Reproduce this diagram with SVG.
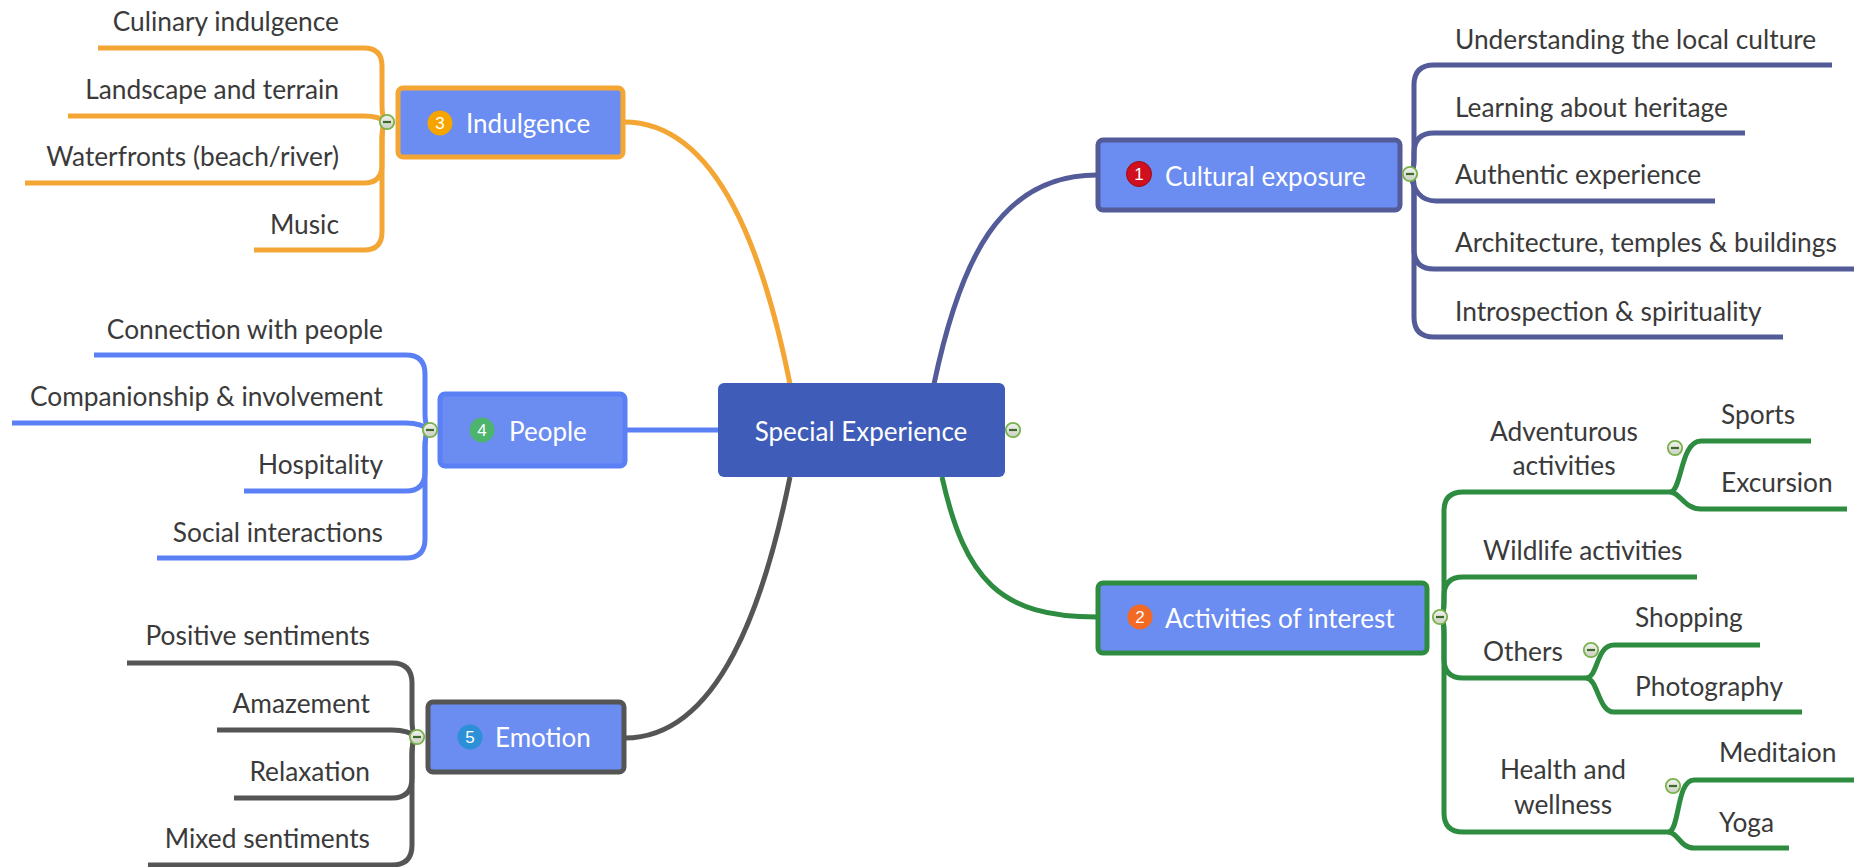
<svg xmlns="http://www.w3.org/2000/svg" width="1854" height="867" viewBox="0 0 1854 867">
<style>
.t{font-family:Lato,"Liberation Sans",sans-serif;font-size:26.3px;fill:#3a3a3a}
.nt{font-family:Lato,"Liberation Sans",sans-serif;font-size:26px;fill:#ffffff}
.bn{font-family:"Liberation Sans",Arial,sans-serif;font-size:17px;fill:#ffffff;text-anchor:middle}
.c{fill:none;stroke-width:5;stroke-linecap:butt;stroke-linejoin:round}
.or{stroke:#f4a634}.sl{stroke:#535b98}.gr{stroke:#2e8c40}.bl{stroke:#5b80f5}.gy{stroke:#555555}
.box{fill:#6b8cf0;stroke-width:5}
.col{fill:url(#cg);stroke:#79b24a;stroke-width:1.8}
.cm{stroke:#3f6b2a;stroke-width:2.2}
</style>
<defs>
<linearGradient id="cg" x1="0" y1="0" x2="0" y2="1"><stop offset="0" stop-color="#f4f4f0"/><stop offset="1" stop-color="#c9cfc3"/></linearGradient>
<g id="collapse"><circle r="7.2" class="col"/><line x1="-4" y1="0" x2="4" y2="0" class="cm"/></g>
</defs>
<g id="connectors">
<path class="c or" d="M790 384 C765 260 720 122 624 122"/>
<path class="c sl" d="M934 384 C960 260 1000 175 1097 175"/>
<path class="c gy" d="M790 477 C765 600 720 738 625 738"/>
<path class="c gr" d="M942 477 C965 580 1000 617 1097 617"/>
<path class="c bl" d="M626 430 L718 430"/>
<!-- Indulgence children -->
<path class="c or" d="M387 122 C384 122 382 116 382 104 L382 66 Q382 48 364 48 L98 48"/>
<path class="c or" d="M387 122 C380 118 375 116 364 116 L68 116"/>
<path class="c or" d="M387 122 C384 122 382 128 382 140 L382 165 Q382 183 364 183 L25 183"/>
<path class="c or" d="M387 122 C384 122 382 128 382 140 L382 232 Q382 250 364 250 L254 250"/>
<!-- People children -->
<path class="c bl" d="M430 430 C427 430 425 424 425 412 L425 374 Q425 355 406 355 L94 355"/>
<path class="c bl" d="M430 430 C423 426 418 423 406 423 L12 423"/>
<path class="c bl" d="M430 430 C427 430 425 436 425 448 L425 472 Q425 491 406 491 L244 491"/>
<path class="c bl" d="M430 430 C427 430 425 436 425 448 L425 539 Q425 558 406 558 L157 558"/>
<!-- Emotion children -->
<path class="c gy" d="M417 737 C414 737 412 731 412 719 L412 683 Q412 663 392 663 L127 663"/>
<path class="c gy" d="M417 737 C410 733 405 730 392 730 L217 730"/>
<path class="c gy" d="M417 737 C414 737 412 743 412 755 L412 778 Q412 798 392 798 L234 798"/>
<path class="c gy" d="M417 737 C414 737 412 743 412 755 L412 845 Q412 865 392 865 L148 865"/>
<!-- Cultural children -->
<path class="c sl" d="M1410 174 C1413 174 1414 168 1414 156 L1414 85 Q1414 65 1434 65 L1832 65"/>
<path class="c sl" d="M1410 174 C1413 174 1414 168 1414 156 L1414 153 Q1414 133 1434 133 L1745 133"/>
<path class="c sl" d="M1410 174 C1414 190 1420 201 1436 201 L1715 201"/>
<path class="c sl" d="M1410 174 C1413 174 1414 180 1414 192 L1414 249 Q1414 269 1434 269 L1854 269"/>
<path class="c sl" d="M1410 174 C1413 174 1414 180 1414 192 L1414 317 Q1414 337 1434 337 L1783 337"/>
<!-- Activities children -->
<path class="c gr" d="M1440 617 C1443 617 1444 611 1444 599 L1444 511 Q1444 492 1463 492 L1670 492"/>
<path class="c gr" d="M1440 617 C1443 617 1444 611 1444 599 L1444 596 Q1444 577 1463 577 L1697 577"/>
<path class="c gr" d="M1440 617 C1443 617 1444 623 1444 635 L1444 659 Q1444 678 1463 678 L1586 678"/>
<path class="c gr" d="M1440 617 C1443 617 1444 623 1444 635 L1444 813 Q1444 832 1463 832 L1668 832"/>
<path class="c gr" d="M1670 492 C1682 492 1680 441 1701 441 L1811 441"/>
<path class="c gr" d="M1670 492 C1680 492 1684 509 1701 509 L1847 509"/>
<path class="c gr" d="M1586 678 C1598 678 1596 645 1614 645 L1760 645"/>
<path class="c gr" d="M1586 678 C1598 678 1598 712 1614 712 L1802 712"/>
<path class="c gr" d="M1668 832 C1680 832 1676 780 1694 780 L1854 780"/>
<path class="c gr" d="M1668 832 C1678 832 1680 848 1694 848 L1789 848"/>
</g>
<g id="central">
<rect x="718" y="383" width="287" height="94" rx="6" fill="#3e5cb8"/>
<text class="nt" x="861" y="441" text-anchor="middle">Special Experience</text>
<use href="#collapse" x="1013" y="430"/>
</g>
<g id="cultural">
<rect class="box" x="1098" y="140" width="302" height="70" rx="5" stroke="#535b98"/>
<circle cx="1139" cy="174" r="12.5" fill="#d0101e" stroke="#9a0a14" stroke-width="1"/>
<text class="bn" x="1139" y="180">1</text>
<text class="nt" x="1165" y="186">Cultural exposure</text>
<use href="#collapse" x="1410" y="174"/>
</g>
<g id="activities">
<rect class="box" x="1098" y="583" width="329" height="70" rx="5" stroke="#2e8c40"/>
<circle cx="1140" cy="617" r="12.5" fill="#f26a24"/>
<text class="bn" x="1140" y="623">2</text>
<text class="nt" x="1165" y="628">Activities of interest</text>
<use href="#collapse" x="1440" y="617"/>
</g>
<g id="indulgence">
<rect class="box" x="398" y="88" width="225" height="69" rx="5" stroke="#f4a634"/>
<circle cx="440" cy="123" r="12.5" fill="#f6a500"/>
<text class="bn" x="440" y="129">3</text>
<text class="nt" x="466" y="133">Indulgence</text>
<use href="#collapse" x="387" y="122"/>
</g>
<g id="people">
<rect class="box" x="440" y="394" width="185" height="72" rx="5" stroke="#5b80f5" fill="#6d8ef3"/>
<circle cx="482" cy="430" r="12.5" fill="#4cb46c"/>
<text class="bn" x="482" y="436">4</text>
<text class="nt" x="509" y="441">People</text>
<use href="#collapse" x="430" y="430"/>
</g>
<g id="emotion">
<rect class="box" x="428" y="702" width="196" height="70" rx="5" stroke="#555555"/>
<circle cx="470" cy="737" r="12.5" fill="#2c90d6"/>
<text class="bn" x="470" y="743">5</text>
<text class="nt" x="495" y="747">Emotion</text>
<use href="#collapse" x="417" y="737"/>
</g>
<g id="indulgence-children">
<text class="t" x="339" y="31" text-anchor="end">Culinary indulgence</text>
<text class="t" x="339" y="99" text-anchor="end">Landscape and terrain</text>
<text class="t" x="339" y="166" text-anchor="end">Waterfronts (beach/river)</text>
<text class="t" x="339" y="234" text-anchor="end">Music</text>
</g>
<g id="people-children">
<text class="t" x="383" y="339" text-anchor="end">Connection with people</text>
<text class="t" x="383" y="406" text-anchor="end">Companionship &amp; involvement</text>
<text class="t" x="383" y="474" text-anchor="end">Hospitality</text>
<text class="t" x="383" y="542" text-anchor="end">Social interactions</text>
</g>
<g id="emotion-children">
<text class="t" x="370" y="645" text-anchor="end">Positive sentiments</text>
<text class="t" x="370" y="713" text-anchor="end">Amazement</text>
<text class="t" x="370" y="781" text-anchor="end">Relaxation</text>
<text class="t" x="370" y="848" text-anchor="end">Mixed sentiments</text>
</g>
<g id="cultural-children">
<text class="t" x="1455" y="49">Understanding the local culture</text>
<text class="t" x="1455" y="117">Learning about heritage</text>
<text class="t" x="1455" y="184">Authentic experience</text>
<text class="t" x="1455" y="252">Architecture, temples &amp; buildings</text>
<text class="t" x="1455" y="321">Introspection &amp; spirituality</text>
</g>
<g id="activities-children">
<text class="t" x="1564" y="441" text-anchor="middle">Adventurous</text>
<text class="t" x="1564" y="475" text-anchor="middle">activities</text>
<use href="#collapse" x="1675" y="448"/>
<text class="t" x="1721" y="424">Sports</text>
<text class="t" x="1721" y="492">Excursion</text>
<text class="t" x="1483" y="560">Wildlife activities</text>
<text class="t" x="1483" y="661">Others</text>
<use href="#collapse" x="1591" y="650"/>
<text class="t" x="1635" y="627">Shopping</text>
<text class="t" x="1635" y="696">Photography</text>
<text class="t" x="1563" y="779" text-anchor="middle">Health and</text>
<text class="t" x="1563" y="814" text-anchor="middle">wellness</text>
<use href="#collapse" x="1673" y="786"/>
<text class="t" x="1719" y="762">Meditaion</text>
<text class="t" x="1719" y="832">Yoga</text>
</g>
</svg>
